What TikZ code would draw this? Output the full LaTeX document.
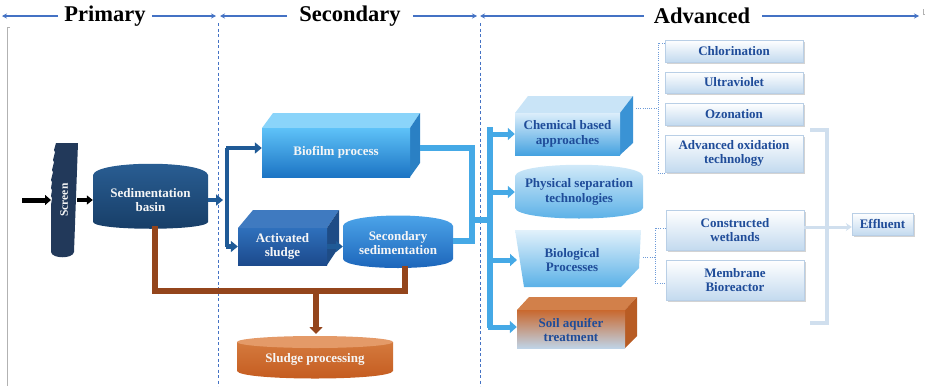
\documentclass[tikz,border=0pt]{standalone}
\usepackage{fontspec}
\setmainfont{Liberation Serif}
\usetikzlibrary{arrows.meta,shadows,calc}

\definecolor{hdr}{HTML}{4472C4}
\definecolor{navy}{HTML}{22395A}
\definecolor{dkblue}{HTML}{1F5A96}
\definecolor{pipeblue}{HTML}{45A9E6}
\definecolor{sludgebrown}{HTML}{94451C}
\definecolor{txtblue}{HTML}{1F4C99}
\definecolor{boxedge}{HTML}{B9CFE6}
\definecolor{boxlow}{HTML}{C3DAEF}
\definecolor{dotblue}{HTML}{6E9BD8}
% tanks and boxes
\definecolor{basinhi}{HTML}{2A5F95}
\definecolor{basinlo}{HTML}{173D66}
\definecolor{biotop}{HTML}{8AD4FA}
\definecolor{bioside}{HTML}{2A80C4}
\definecolor{biohi}{HTML}{5EC2F8}
\definecolor{biolo}{HTML}{1C74C4}
\definecolor{acttop}{HTML}{3F7AC0}
\definecolor{actside}{HTML}{1E4C86}
\definecolor{acthi}{HTML}{2F70BC}
\definecolor{actlo}{HTML}{1C4A8C}
\definecolor{sechi}{HTML}{4FA8EC}
\definecolor{seclo}{HTML}{1A62B8}
\definecolor{sludgehi}{HTML}{D47A3E}
\definecolor{sludgelo}{HTML}{C45A1E}
\definecolor{sludgelid}{HTML}{E49A68}
\definecolor{chemtop}{HTML}{C9E4F7}
\definecolor{chemside}{HTML}{3A93D5}
\definecolor{chemhi}{HTML}{DCEEFB}
\definecolor{chemlo}{HTML}{45A2E0}
\definecolor{physhi}{HTML}{D9EDFA}
\definecolor{physlo}{HTML}{55AEE6}
\definecolor{biolhi}{HTML}{E2F1FB}
\definecolor{biollo}{HTML}{5AB1E7}
\definecolor{soiltop}{HTML}{D2804A}
\definecolor{soilside}{HTML}{B85C24}
\definecolor{soilhi}{HTML}{C9682E}
\definecolor{soillo}{HTML}{BFD3E6}
\definecolor{collect}{HTML}{D0DFEE}

\begin{document}
\begin{tikzpicture}[x=1pt,y=-1pt,
  hdrarrow/.style={hdr, line width=1.3pt, -{Stealth[length=5pt,width=5pt]}},
  phase/.style={font=\bfseries\fontsize{22.5}{24}\selectfont, inner sep=0pt},
  sepline/.style={hdr, line width=0.9pt, dash pattern=on 3pt off 2.5pt},
  lbl/.style={font=\bfseries\fontsize{13}{14.5}\selectfont, align=center, text=white!93!gray},
  dlbl/.style={lbl, text=txtblue},
  face/.style={rectangle, inner sep=0pt},
  dkpipe/.style={dkblue, line width=4.5pt, -{Triangle[length=7pt,width=11pt]}},
  ltpipe/.style={pipeblue, line width=6pt},
  ltarrow/.style={pipeblue, line width=5pt, -{Triangle[length=7pt,width=12pt]}},
  brpipe/.style={sludgebrown, line width=6pt},
  rbox/.style={draw=boxedge, line width=0.4pt, top color=white, bottom color=boxlow,
    drop shadow={opacity=0.35, shadow xshift=1.5pt, shadow yshift=-1.5pt},
    minimum width=138pt, inner sep=0pt, font=\bfseries\fontsize{13}{14.5}\selectfont,
    text=txtblue, align=center},
  brack/.style={draw=dotblue, line width=1pt, dash pattern=on 1pt off 1.2pt}
]
\useasboundingbox (0,0) rectangle (925,386);

% ---------- header ----------
\node[phase] (prim) at (105,16) {Primary};
\node[phase] (secn) at (350,16) {Secondary};
\node[phase] (advn) at (702,16) {Advanced};
\draw[hdrarrow] ([xshift=-6pt]prim.west) -- (2,16);
\draw[hdrarrow] ([xshift=6pt]prim.east) -- (216,16);
\draw[hdrarrow] ([xshift=-12pt]secn.west) -- (220,16);
\draw[hdrarrow] ([xshift=12pt]secn.east) -- (477,16);
\draw[hdrarrow] ([xshift=-10pt]advn.west) -- (480,16);
\draw[hdrarrow] ([xshift=12pt]advn.east) -- (919,16);
\draw[gray!60, line width=0.5pt] (923,9) -- (923,14) -- (925,14);

% stage separators and frame edge
\draw[sepline] (218,23) -- (218,386);
\draw[sepline] (480,23) -- (480,386);
\draw[gray!60, line width=0.7pt] (10,27) -- (7,27) -- (7,386);

% ---------- primary ----------
\fill[navy] (56,143) -- (78,143) -- (74,252) .. controls (73,259) and (52,259) .. (51,252)
  -- (51,205) -- (52,198) -- (51,196) -- (52,190) -- (51,188) -- (52,182) -- (51,180)
  -- (53,172) -- (52,170) -- (54,162) -- (53,160) -- (55,152) -- (54,150) -- cycle;
\node[lbl, rotate=90, font=\bfseries\fontsize{11.5}{12}\selectfont] (scr) at (64,200) {Screen};
\coordinate (scrin) at (51,200);
\coordinate (scrout) at (77,200);
\coordinate (feed) at (22,200);
\draw[black, line width=5pt, -{Triangle[length=6pt,width=10pt]}] (feed) -- (scrin);

\shade[top color=basinhi, bottom color=basinlo] (93,175) .. controls (96,160) and (205,160) .. (208,175)
  -- (208,222) .. controls (206,231) and (95,231) .. (93,222) -- cycle;
\node[face, lbl, minimum width=115pt, minimum height=60pt] (basin) at (150.5,200) {Sedimentation\\basin};
\draw[black, line width=4pt, -{Triangle[length=6pt,width=9pt]}] (scrout) -- (basin.west);

% ---------- secondary ----------
% biofilm process box
\fill[biotop] (262,128) -- (273,113) -- (420,113) -- (410,128) -- cycle;
\fill[bioside] (410,128) -- (420,113) -- (420,163) -- (410,177) -- cycle;
\shade[top color=biohi, bottom color=biolo] (262,128) rectangle (410,177);
\node[face, lbl, minimum width=148pt, minimum height=49pt] (bio) at (336,152.5) {Biofilm process};

% activated sludge box
\fill[acttop] (238,228) -- (253,210) -- (339,210) -- (327,228) -- cycle;
\fill[actside] (327,228) -- (339,210) -- (339,247) -- (327,265) -- cycle;
\shade[top color=acthi, bottom color=actlo] (238,228) rectangle (327,265);
\node[face, lbl, minimum width=89pt, minimum height=37pt] (act) at (282.5,246.5) {Activated\\sludge};

% secondary sedimentation tank
\shade[top color=sechi, bottom color=seclo] (343,226) .. controls (345,212) and (451,212) .. (453,226)
  -- (453,259) .. controls (451,271) and (345,271) .. (343,259) -- cycle;
\node[face, lbl, minimum width=110pt, minimum height=49pt] (sedtwo) at (398,243) {Secondary\\sedimentation};

% dark blue split
\coordinate (split) at (227,200);
\draw[dkpipe] (basin.east) -- (223,200);
\draw[dkblue, line width=4.5pt] (227,148) -- (227,247);
\draw[dkpipe] (226,148) -- (bio.west |- 0,148);
\draw[dkpipe] (226,246.5) -- (act.west);
\draw[dkpipe] (act.east) -- (sedtwo.west |- act.east);

% sludge line
\coordinate (bsout) at (155,226);
\coordinate (sdout) at (405,266);
\coordinate (sldjn) at (316,291);
\draw[brpipe, line join=miter] (bsout) -- (155,291) -- (405,291) -- (sdout);

% sludge processing
\shade[top color=sludgehi, bottom color=sludgelo] (237,342) -- (237,371) .. controls (240,381) and (390,381) .. (393,371)
  -- (393,342) -- cycle;
\fill[sludgelid] (315,342) ellipse [x radius=78, y radius=6];
\node[face, lbl, minimum width=156pt, minimum height=36pt] (sproc) at (315,359) {Sludge processing};
\draw[sludgebrown, line width=6pt, -{Triangle[length=7pt,width=13pt]}] (sldjn) -- (316,334);

% effluent of secondary stage
\coordinate (bioout) at (420,148);
\draw[ltpipe, line join=miter] (bioout) -- (472,148) -- (472,241) -- (sedtwo.east |- 0,241);
\draw[ltpipe] (469,220) -- (493,220);
\draw[ltpipe] (490,127) -- (490,328);

% ---------- advanced ----------
% chemical based approaches
\fill[chemtop] (515,113) -- (528,96) -- (633,96) -- (620,113) -- cycle;
\fill[chemside] (620,113) -- (633,96) -- (633,143) -- (620,155) -- cycle;
\shade[top color=chemhi, bottom color=chemlo] (515,113) rectangle (620,155);
\node[face, dlbl, minimum width=105pt, minimum height=42pt] (chem) at (567.5,134) {Chemical based\\approaches};

% physical separation technologies
\shade[top color=physhi, bottom color=physlo] (515,176) .. controls (518,161) and (640,161) .. (643,176)
  -- (643,208) .. controls (640,222) and (518,222) .. (515,208) -- cycle;
\node[face, dlbl, minimum width=128pt, minimum height=50pt] (phys) at (579,192) {Physical separation\\technologies};

% biological processes
\shade[top color=biolhi, bottom color=biollo] (515,230) -- (641,230) -- (639,268) -- (621,287)
  -- (524,287) -- cycle;
\node[face, dlbl, minimum width=110pt, minimum height=50pt] (biol) at (572,260) {Biological\\Processes};

% soil aquifer treatment
\fill[soiltop] (517,310) -- (529,297) -- (637,297) -- (625,310) -- cycle;
\fill[soilside] (625,310) -- (637,297) -- (637,336) -- (625,348) -- cycle;
\shade[top color=soilhi, bottom color=soillo] (517,310) rectangle (625,348);
\node[face, dlbl, minimum width=108pt, minimum height=38pt] (soil) at (571,330) {Soil aquifer\\treatment};

% distribution arrows
\draw[ltarrow] (488,134) -- (chem.west);
\draw[ltarrow] (488,192) -- (phys.west);
\draw[ltarrow] (488,260) -- (517,260);
\draw[ltarrow] (488,327) -- (soil.west |- 0,327);

% disinfection and oxidation options
\node[rbox, minimum height=22pt] (chl) at (734,51) {Chlorination};
\node[rbox, minimum height=21pt] (uv)  at (734,82.5) {Ultraviolet};
\node[rbox, minimum height=22pt] (ozo) at (734,114) {Ozonation};
\node[rbox, minimum height=37pt] (aot) at (734,153.5) {Advanced oxidation\\technology};
\node[rbox, minimum height=40pt] (wet) at (735,230) {Constructed\\wetlands};
\node[rbox, minimum height=40pt] (mbr) at (735,280) {Membrane\\Bioreactor};
\node[rbox, minimum width=61pt, minimum height=22pt] (eff) at (882.5,224) {Effluent};

% dotted brackets
\coordinate (chemtip) at (636,108);
\coordinate (bioltip) at (643,257);
\draw[brack] (chl.west |- 0,43) -- (658,43) -- (658,173) -- (aot.west |- 0,173);
\draw[brack] (chemtip) -- (658,108);
\draw[brack] (wet.west |- 0,228) -- (655,228) -- (655,283) -- (mbr.west |- 0,283);
\draw[brack] (bioltip) -- (655,257);

% collecting bracket towards effluent
\draw[collect, line width=4pt] (810,130) -- (827,130) -- (827,323) -- (810,323);
\draw[collect, line width=3pt, -{Stealth[length=6pt,width=8pt]}] (wet.east |- 0,227) -- (eff.west |- 0,227);
\end{tikzpicture}
\end{document}
